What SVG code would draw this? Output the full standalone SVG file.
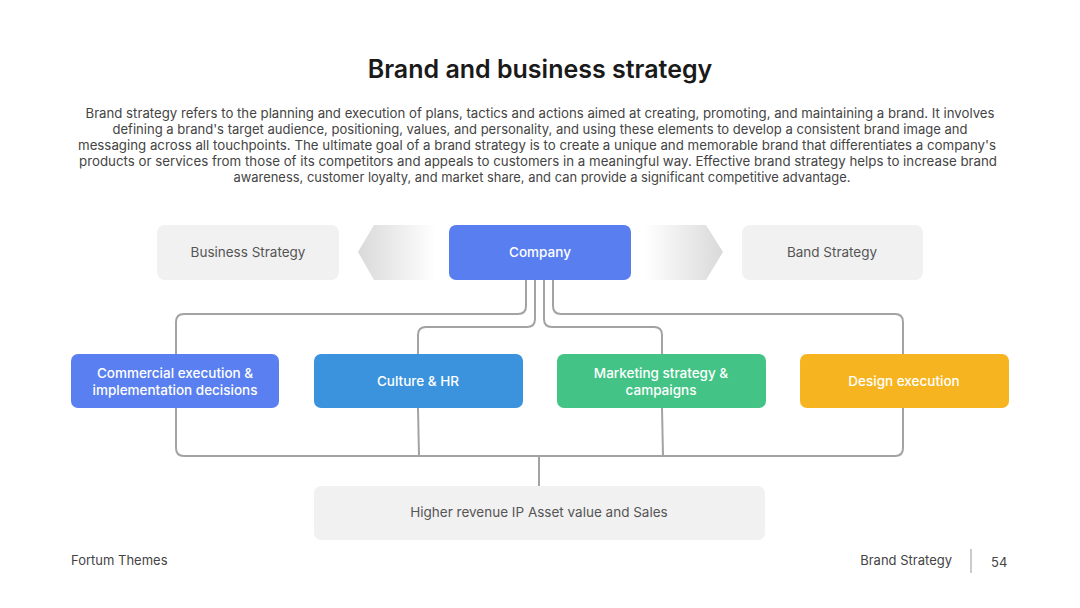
<svg xmlns="http://www.w3.org/2000/svg" width="1080" height="608" viewBox="0 0 1080 608">
<defs>
<linearGradient id="gl" x1="0" y1="0" x2="1" y2="0"><stop offset="0" stop-color="#d9d9d9"/><stop offset="0.85" stop-color="#ffffff"/></linearGradient>
<linearGradient id="gr" x1="0" y1="0" x2="1" y2="0"><stop offset="0.15" stop-color="#ffffff"/><stop offset="1" stop-color="#d9d9d9"/></linearGradient>
<style>
.t{font-family:Inter,"Open Sans","Liberation Sans",sans-serif}
.body{font-size:13px;fill:#444;text-anchor:middle}
.gbox{fill:#f1f1f1}
.gtxt{font-size:13.5px;fill:#555;text-anchor:middle}
.wtxt{font-size:13.5px;fill:#fff;text-anchor:middle;font-weight:500}
.conn{fill:none;stroke:#a3a3a3;stroke-width:2}
.foot{font-size:13px;fill:#444}
</style>
</defs>
<rect width="1080" height="608" fill="#fff"/>
<text class="t" x="540" y="78" text-anchor="middle" font-size="25" font-weight="600" fill="#1a1a1a">Brand and business strategy</text>
<g class="t body">
<text x="540" y="118" textLength="909" lengthAdjust="spacingAndGlyphs">Brand strategy refers to the planning and execution of plans, tactics and actions aimed at creating, promoting, and maintaining a brand. It involves</text>
<text x="540" y="134" textLength="855" lengthAdjust="spacingAndGlyphs">defining a brand's target audience, positioning, values, and personality, and using these elements to develop a consistent brand image and</text>
<text x="537" y="150" textLength="918" lengthAdjust="spacingAndGlyphs">messaging across all touchpoints. The ultimate goal of a brand strategy is to create a unique and memorable brand that differentiates a company's</text>
<text x="538" y="166" textLength="918" lengthAdjust="spacingAndGlyphs">products or services from those of its competitors and appeals to customers in a meaningful way. Effective brand strategy helps to increase brand</text>
<text x="542" y="182" textLength="617" lengthAdjust="spacingAndGlyphs">awareness, customer loyalty, and market share, and can provide a significant competitive advantage.</text>
</g>
<g id="arrow-left"><polygon points="358,252 374,225 449,225 449,280 374,280" fill="url(#gl)"/></g>
<g id="arrow-right"><polygon points="631,225 706,225 723,252 706,280 631,280" fill="url(#gr)"/></g>
<g id="connectors">
<path class="conn" d="M526,279 V306 Q526,314 518,314 H184 Q176,314 176,322 V354"/>
<path class="conn" d="M535,279 V319 Q535,327 527,327 H426 Q418,327 418,335 V354"/>
<path class="conn" d="M544,279 V319 Q544,327 552,327 H654 Q662,327 662,335 V354"/>
<path class="conn" d="M553,279 V306 Q553,314 561,314 H895 Q903,314 903,322 V354"/>
<path class="conn" d="M176,408 V448 Q176,456 184,456 H895 Q903,456 903,448 V408"/>
<path class="conn" d="M418,408 L419,456"/>
<path class="conn" d="M662,408 L663,456"/>
<path class="conn" d="M539,456 V486"/>
</g>
<g id="business-strategy"><rect class="gbox" x="157" y="225" width="182" height="55" rx="8"/><text class="t gtxt" x="248" y="257">Business Strategy</text></g>
<g id="company"><rect x="449" y="225" width="182" height="55" rx="7" fill="#587ef0"/><text class="t wtxt" x="540" y="257">Company</text></g>
<g id="band-strategy"><rect class="gbox" x="742" y="225" width="181" height="55" rx="8"/><text class="t gtxt" x="832" y="257">Band Strategy</text></g>
<g id="commercial"><rect x="71" y="354" width="208" height="54" rx="7" fill="#5a7ff0"/><text class="t wtxt" x="175" y="378">Commercial execution &amp;</text><text class="t wtxt" x="175" y="395">implementation decisions</text></g>
<g id="culture"><rect x="314" y="354" width="209" height="54" rx="7" fill="#3b93de"/><text class="t wtxt" x="418" y="386">Culture &amp; HR</text></g>
<g id="marketing"><rect x="557" y="354" width="209" height="54" rx="7" fill="#43c486"/><text class="t wtxt" x="661" y="378">Marketing strategy &amp;</text><text class="t wtxt" x="661" y="395">campaigns</text></g>
<g id="design"><rect x="800" y="354" width="209" height="54" rx="7" fill="#f6b520"/><text class="t wtxt" x="904" y="386">Design execution</text></g>
<g id="result"><rect class="gbox" x="314" y="486" width="451" height="54" rx="7"/><text class="t gtxt" x="539" y="517">Higher revenue IP Asset value and Sales</text></g>
<text class="t foot" x="71" y="565">Fortum Themes</text>
<text class="t foot" x="952" y="565" text-anchor="end">Brand Strategy</text>
<line x1="971" y1="549" x2="971" y2="573" stroke="#999" stroke-width="1"/>
<text class="t foot" x="991" y="567">54</text>
</svg>
